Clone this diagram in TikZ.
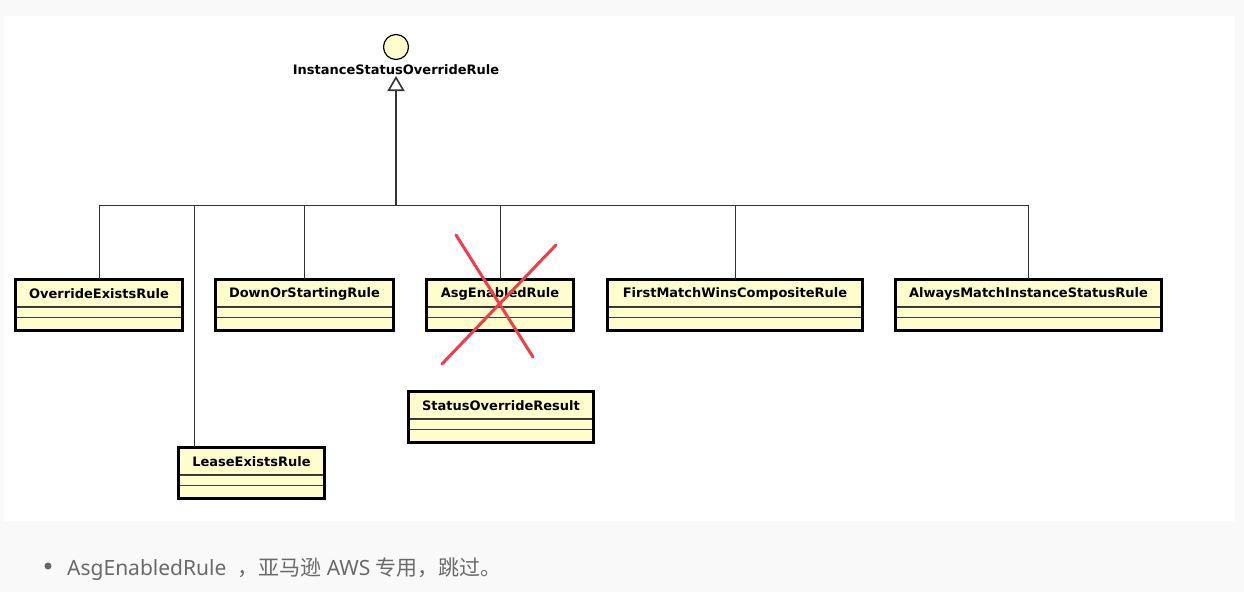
\documentclass[tikz,border=0pt]{standalone}
\usepackage{fontspec}
\newfontfamily\umlfont{DejaVu Sans}
\newfontfamily\notefont{Noto Sans}
\newfontfamily\cjk{Noto Sans CJK SC}
\usetikzlibrary{arrows.meta}
\definecolor{umlyellow}{HTML}{FEFECC}
\definecolor{crossred}{HTML}{EE3E4A}
\definecolor{pagegray}{HTML}{F9F9F9}
\definecolor{notegray}{HTML}{6A6A6A}
\begin{document}
\begin{tikzpicture}[x=1pt,y=-1pt,
	classname/.style={draw=black!80, fill=umlyellow, line width=1.2pt, minimum height=27pt, inner sep=0pt, font=\umlfont\fontsize{13}{15}\selectfont\bfseries},
	classframe/.style={draw=black, line width=2.5pt},
	compart/.style={draw=black!75, fill=umlyellow, line width=1.2pt},
	generalize/.style={draw=black!80, line width=1pt},
	cross/.style={draw=crossred, line width=3pt, line cap=round}]
	\newcommand\hA{10}
	\newcommand\hB{23}

	\useasboundingbox[fill=pagegray] (0,0) rectangle (1244,592);
	\fill[white] (4,16) rectangle (1235,521);

	\node[circle, draw, fill=umlyellow, line width=1.2pt, minimum size=25pt, inner sep=0pt] (isor) at (396,47) {};
	\node[anchor=south, inner sep=1.5pt, font=\umlfont\fontsize{13}{15}\selectfont\bfseries] (isorl) at (396,76) {InstanceStatusOverrideRule};

	\node[classname, minimum width=166pt] (oer) at (99,293.5) {OverrideExistsRule};
	\draw[compart] (oer.south west) rectangle ([yshift=-\hA]oer.south east);
	\draw[compart] ([yshift=-\hA]oer.south west) rectangle ([yshift=-\hB]oer.south east);
	\draw[classframe] (oer.north west) rectangle ([yshift=-\hB]oer.south east);

	\node[classname, minimum width=177pt] (dosr) at (304.5,293.5) {DownOrStartingRule};
	\draw[compart] (dosr.south west) rectangle ([yshift=-\hA]dosr.south east);
	\draw[compart] ([yshift=-\hA]dosr.south west) rectangle ([yshift=-\hB]dosr.south east);
	\draw[classframe] (dosr.north west) rectangle ([yshift=-\hB]dosr.south east);

	\node[classname, minimum width=146pt] (aer) at (500,293.5) {AsgEnabledRule};
	\draw[compart] (aer.south west) rectangle ([yshift=-\hA]aer.south east);
	\draw[compart] ([yshift=-\hA]aer.south west) rectangle ([yshift=-\hB]aer.south east);
	\draw[classframe] (aer.north west) rectangle ([yshift=-\hB]aer.south east);

	\node[classname, minimum width=254pt] (fmwcr) at (735,293.5) {FirstMatchWinsCompositeRule};
	\draw[compart] (fmwcr.south west) rectangle ([yshift=-\hA]fmwcr.south east);
	\draw[compart] ([yshift=-\hA]fmwcr.south west) rectangle ([yshift=-\hB]fmwcr.south east);
	\draw[classframe] (fmwcr.north west) rectangle ([yshift=-\hB]fmwcr.south east);

	\node[classname, minimum width=265pt] (amisr) at (1028.5,293.5) {AlwaysMatchInstanceStatusRule};
	\draw[compart] (amisr.south west) rectangle ([yshift=-\hA]amisr.south east);
	\draw[compart] ([yshift=-\hA]amisr.south west) rectangle ([yshift=-\hB]amisr.south east);
	\draw[classframe] (amisr.north west) rectangle ([yshift=-\hB]amisr.south east);

	\node[classname, minimum width=184pt] (sor) at (501,405.5) {StatusOverrideResult};
	\draw[compart] (sor.south west) rectangle ([yshift=-\hA]sor.south east);
	\draw[compart] ([yshift=-\hA]sor.south west) rectangle ([yshift=-\hB]sor.south east);
	\draw[classframe] (sor.north west) rectangle ([yshift=-\hB]sor.south east);

	\node[classname, minimum width=145pt] (ler) at (251.5,461.5) {LeaseExistsRule};
	\draw[compart] (ler.south west) rectangle ([yshift=-\hA]ler.south east);
	\draw[compart] ([yshift=-\hA]ler.south west) rectangle ([yshift=-\hB]ler.south east);
	\draw[classframe] (ler.north west) rectangle ([yshift=-\hB]ler.south east);

	\coordinate (hub) at (396,205);
	\coordinate (lerTop) at ([xshift=16pt]ler.north west);
	\draw[generalize] (oer.north |- hub) -- (amisr.north |- hub);
	\draw[generalize] (oer.north) -- (oer.north |- hub);
	\draw[generalize] (lerTop) -- (lerTop |- hub);
	\draw[generalize] (dosr.north) -- (dosr.north |- hub);
	\draw[generalize] (aer.north) -- (aer.north |- hub);
	\draw[generalize] (fmwcr.north) -- (fmwcr.north |- hub);
	\draw[generalize] (amisr.north) -- (amisr.north |- hub);
	\draw[generalize, line width=1.6pt, -{Triangle[open, width=17pt, length=15pt]}] (hub) -- (isorl.south);

	\draw[cross] (456,235) -- (533,357);
	\draw[cross] (556,245) -- (442,364);

	\node[circle, fill=black!60, minimum size=7pt, inner sep=0pt] (dot) at (48,566) {};
	\node[anchor=base west, inner sep=0pt, text=notegray, font=\fontsize{21}{25}\selectfont] (note) at (67,575) {{\notefont AsgEnabledRule\ \ }{\cjk ，亚马逊}{\notefont\ AWS\ }{\cjk 专用，跳过。}};
\end{tikzpicture}
\end{document}
